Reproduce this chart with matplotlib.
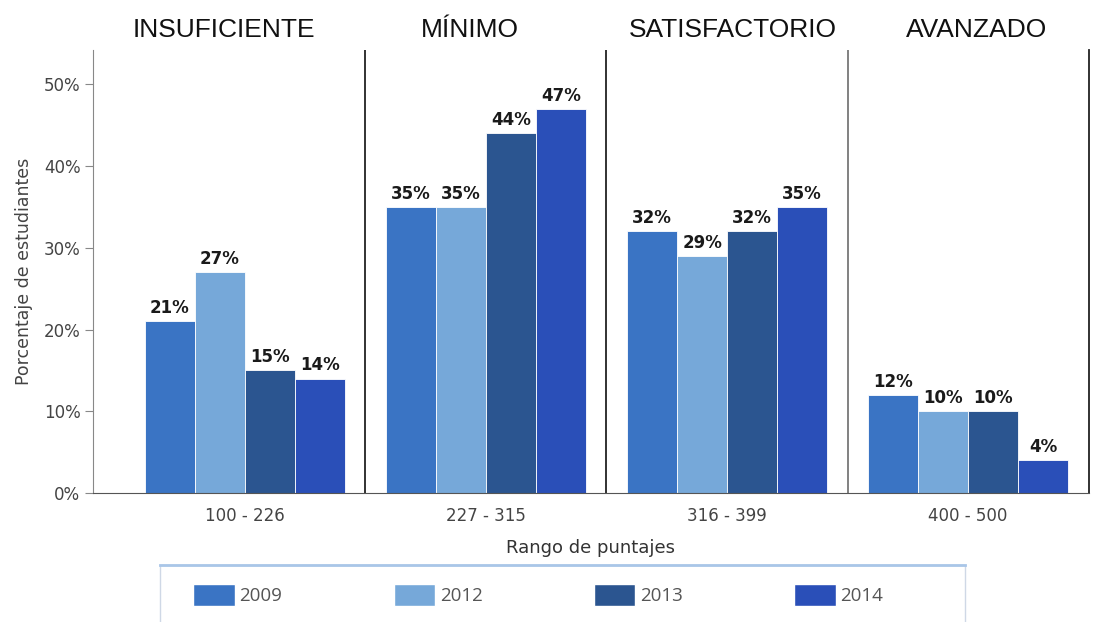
import matplotlib.pyplot as plt
import numpy as np
from matplotlib.patches import Rectangle, Patch
from matplotlib.lines import Line2D

ranges = ["100 - 226", "227 - 315", "316 - 399", "400 - 500"]
levels = ["INSUFICIENTE", "MÍNIMO", "SATISFACTORIO", "AVANZADO"]
years = ["2009", "2012", "2013", "2014"]
v2009 = [21, 35, 32, 12]
v2012 = [27, 35, 29, 10]
v2013 = [15, 44, 32, 10]
v2014 = [14, 47, 35, 4]
colors = ["#3a74c4", "#76a8d9", "#2b5590", "#2a4fb8"]

plt.rcParams['font.family'] = ['DejaVu Sans']

fig = plt.figure(figsize=(11.12, 6.22), dpi=100)
ax = fig.add_axes([0.0836, 0.2074, 0.9790 - 0.0836, 0.9196 - 0.2074])

x = np.arange(len(ranges))
w = 0.207
series = [v2009, v2012, v2013, v2014]
for i, vals in enumerate(series):
    pos = x + (i - 1.5) * w
    ax.bar(pos, vals, w, color=colors[i], edgecolor="white", linewidth=0.6, label=years[i])
    for xp, v in zip(pos, vals):
        ax.text(xp, v + 0.5, f"{v}%", ha="center", va="bottom", fontsize=12,
                fontweight="bold", color="#1a1a1a")

ax.set_xlim(-0.63, 3.5)
ax.set_ylim(0, 54.2)
ax.set_yticks([0, 10, 20, 30, 40, 50])
ax.set_yticklabels([f"{t}%" for t in [0, 10, 20, 30, 40, 50]])
ax.set_xticks(x)
ax.set_xticklabels(ranges)
ax.tick_params(axis="both", labelsize=12, colors="#888888", labelcolor="#444444")
ax.tick_params(axis="x", length=0, pad=10)
ax.tick_params(axis="y", length=6, pad=3)

ax.spines["top"].set_visible(False)
ax.spines["left"].set_color("#888888")
ax.spines["bottom"].set_color("#555555")
ax.spines["right"].set_color("#222222")
ax.spines["right"].set_linewidth(1.3)

for b in [0.5, 1.5, 2.5]:
    ax.axvline(b, color="#222222" if b != 2.5 else "#777777", linewidth=1.3)

# level headings sit slightly off the group centres in the original
title_shift = [-0.087, -0.066, 0.025, 0.037]
for xi, lv, dx in zip(x, levels, title_shift):
    ax.text(xi + dx, 1.03, lv, transform=ax.get_xaxis_transform(), ha="center", va="baseline",
            fontsize=19, family=["Liberation Sans", "DejaVu Sans"], color="#111111")

ax.set_ylabel("Porcentaje de estudiantes", fontsize=12.5, color="#444444", labelpad=8)
ax.set_xlabel("Rango de puntajes", fontsize=13, color="#333333", labelpad=10)

# legend frame
fig.patches.append(Rectangle((160 / 1112, -0.02), 805 / 1112, 57 / 622 + 0.02, transform=fig.transFigure,
                             facecolor="white", edgecolor="#cfd8e6", linewidth=1.0))
fig.lines.append(Line2D([160 / 1112, 965 / 1112], [57 / 622, 57 / 622], transform=fig.transFigure,
                        color="#a9c6e8", linewidth=2))

handles = [Patch(facecolor=c, edgecolor="white", label=y) for c, y in zip(colors, years)]
leg = fig.legend(handles=handles, ncol=4, loc="center left", bbox_to_anchor=(186 / 1112, 27 / 622),
                 frameon=False, prop={"family": ["Open Sans", "DejaVu Sans"], "size": 13.5},
                 handlelength=2.2, handleheight=1.4, columnspacing=5.95, handletextpad=0.25,
                 borderaxespad=0)
for t in leg.get_texts():
    t.set_color("#555555")

fig.savefig("out.png", dpi=100)
